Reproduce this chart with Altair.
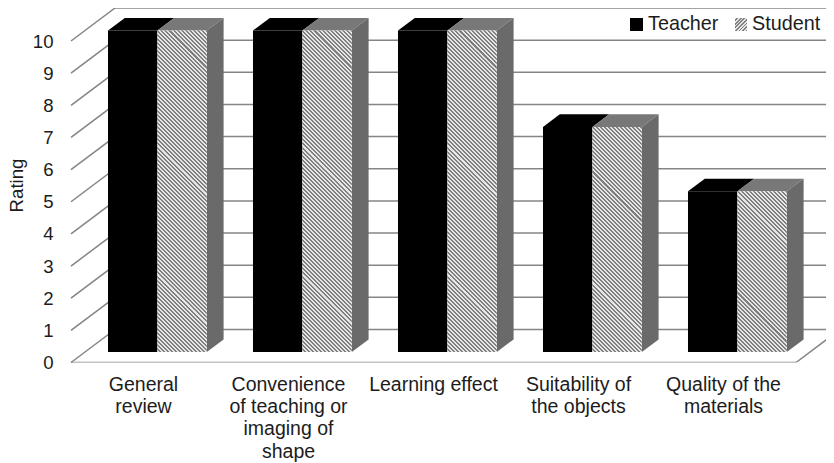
import altair as alt
import pandas as pd

categories = ["General review", "Convenience of teaching or imaging of shape",
              "Learning effect", "Suitability of the objects", "Quality of the materials"]
axis_labels = ["General\nreview", "Convenience\nof teaching or\nimaging of\nshape",
               "Learning effect", "Suitability of\nthe objects", "Quality of the\nmaterials"]
teacher = [10, 10, 10, 7, 5]
student = [10, 10, 10, 7, 5]
ticks = list(range(0, 11))

FONT = "Liberation Sans"
GRID = "#858585"
TEXT = "#1c1c1c"

# Pixel sizes of the plot (front plane of the 3-D box)
CAT_PX = 145.0
UNIT_PX = 32.15
PLOT_W = 755
PLOT_H = 354.5
DEPTH_X_PX, DEPTH_Y_PX = 44.0, 33.0
DX = DEPTH_X_PX / CAT_PX   # box depth in category units
DY = DEPTH_Y_PX / UNIT_PX  # box depth in rating units
XMAX = PLOT_W / CAT_PX
YMAX = PLOT_H / UNIT_PX
GAP = 23.0 / CAT_PX        # side gap inside a category
BAR = 49.4 / CAT_PX
D0, D1 = 0.318, 0.70       # depth range taken by bars

xs = alt.Scale(domain=[0, XMAX], nice=False, zero=False)
ys = alt.Scale(domain=[0, YMAX], nice=False, zero=False)
y_axis = alt.Axis(
    values=ticks, domain=False, ticks=False, grid=False, labelPadding=18,
    labelFont=FONT, labelFontSize=18.6, labelColor=TEXT, format="d",
    title="Rating", titleFont=FONT, titleFontSize=18.6, titleFontWeight="normal",
    titleColor=TEXT, titleX=-45, titleY=177)
X = lambda f="x": alt.X(f"{f}:Q", scale=xs, axis=None)
Y = lambda f="y": alt.Y(f"{f}:Q", scale=ys, axis=y_axis)


def stripes(w, h, period, light, dark, flip=False):
    """Diagonal stripes as a linear gradient fitted to a w x h pixel box."""
    k = (w + h) / (w * w + h * h)
    if flip:
        grad = dict(x1=0, y1=0, x2=w * k, y2=h * k)
    else:
        grad = dict(x1=0, y1=1, x2=w * k, y2=1 - h * k)
    n = int((w + h) / period)
    stops = []
    for i in range(n):
        a, b, c = i / n, (i + 0.5) / n, (i + 1) / n
        stops += [dict(offset=a, color=light), dict(offset=b, color=light),
                  dict(offset=b, color=dark), dict(offset=c, color=dark)]
    return alt.Gradient(gradient="linear", stops=stops, **grad)


layers = []

# Back wall, side wall diagonals and floor
back = pd.DataFrame({"x": [DX] * len(ticks), "x2": [XMAX] * len(ticks),
                     "y": [t + DY for t in ticks]})
layers.append(alt.Chart(back).mark_rule(color=GRID, strokeWidth=1.5, clip=True).encode(
    x=X(), x2="x2:Q", y=Y()))
diag = pd.DataFrame({"x": [0.0] * len(ticks), "x2": [DX] * len(ticks),
                     "y": ticks, "y2": [t + DY for t in ticks]})
layers.append(alt.Chart(diag).mark_rule(color=GRID, strokeWidth=1.5).encode(
    x=X(), x2="x2:Q", y=Y(), y2="y2:Q"))
floor = pd.DataFrame({"x": [0.0, len(categories)], "x2": [len(categories), len(categories) + DX],
                      "y": [0.0, 0.0], "y2": [0.0, DY]})
layers.append(alt.Chart(floor).mark_rule(color=GRID, strokeWidth=1.5, clip=True).encode(
    x=X(), x2="x2:Q", y=Y(), y2="y2:Q"))

for i in range(len(categories)):
    for j, vals in enumerate((teacher, student)):
        v = vals[i]
        left = i + GAP + j * BAR + D0 * DX
        right = left + BAR
        y0 = D0 * DY
        h_px = v * UNIT_PX
        if j == 0:
            front_fill = "#000000"
            top_fill = "#000000"
        else:
            front_fill = stripes(BAR * CAT_PX, h_px, 4.0, "#e6e6e6", "#808080")
            top_fill = "#787878"
            side_fill = "#6a6a6a"
        # top face
        top = pd.DataFrame({
            "x": [left, left + (D1 - D0) * DX],
            "x2": [right, right + (D1 - D0) * DX],
            "y": [v + y0, v + D1 * DY]})
        layers.append(alt.Chart(top).mark_area(orient="horizontal", color=top_fill).encode(
            x=X(), x2="x2:Q", y=Y()))
        # side face
        if j == 1:
            side = pd.DataFrame({
                "x": [right, right + (D1 - D0) * DX],
                "y": [v + y0, v + D1 * DY],
                "y2": [y0, D1 * DY]})
            layers.append(alt.Chart(side).mark_area(orient="vertical", color=side_fill).encode(
                x=X(), y=Y(), y2="y2:Q"))
        # front face
        front = pd.DataFrame({"x": [left], "x2": [right], "y": [v + y0], "y2": [y0]})
        layers.append(alt.Chart(front).mark_rect(color=front_fill).encode(
            x=X(), x2="x2:Q", y=Y(), y2="y2:Q"))

# Category labels
labels = pd.DataFrame({"x": [i + 0.5 for i in range(len(categories))], "label": axis_labels})
layers.append(alt.Chart(labels).mark_text(
    font=FONT, fontSize=19.5, color=TEXT, lineBreak="\n", lineHeight=22.4,
    baseline="top", align="center").encode(
    x=X(), y=alt.value(PLOT_H + 13), text="label:N"))

# Legend
leg_h = 13
layers.append(alt.Chart(pd.DataFrame({"k": ["Teacher"]})).mark_rect(color="#000000").encode(
    x=alt.value(559), x2=alt.value(572), y=alt.value(10), y2=alt.value(10 + leg_h)))
layers.append(alt.Chart(pd.DataFrame({"k": ["Student"]})).mark_rect(
    color=stripes(12, leg_h, 3.4, "#e6e6e6", "#808080", flip=True)).encode(
    x=alt.value(664), x2=alt.value(676), y=alt.value(10), y2=alt.value(10 + leg_h)))
legend = pd.DataFrame({"label": ["Teacher", "Student"], "px": [577, 681]})
layers.append(alt.Chart(legend).mark_text(
    font=FONT, fontSize=19.8, color=TEXT, align="left", baseline="middle").encode(
    x=alt.X("px:Q", scale=None), y=alt.value(16), text="label:N"))

chart = alt.layer(*layers).properties(
    width=PLOT_W, height=PLOT_H,
    autosize=alt.AutoSizeParams(type="none"),
    padding={"left": 63, "right": 0, "top": 0, "bottom": 102},
    background="white",
).configure_view(stroke=None)

chart.save("out.html", embed_options={"renderer": "svg", "actions": False})
